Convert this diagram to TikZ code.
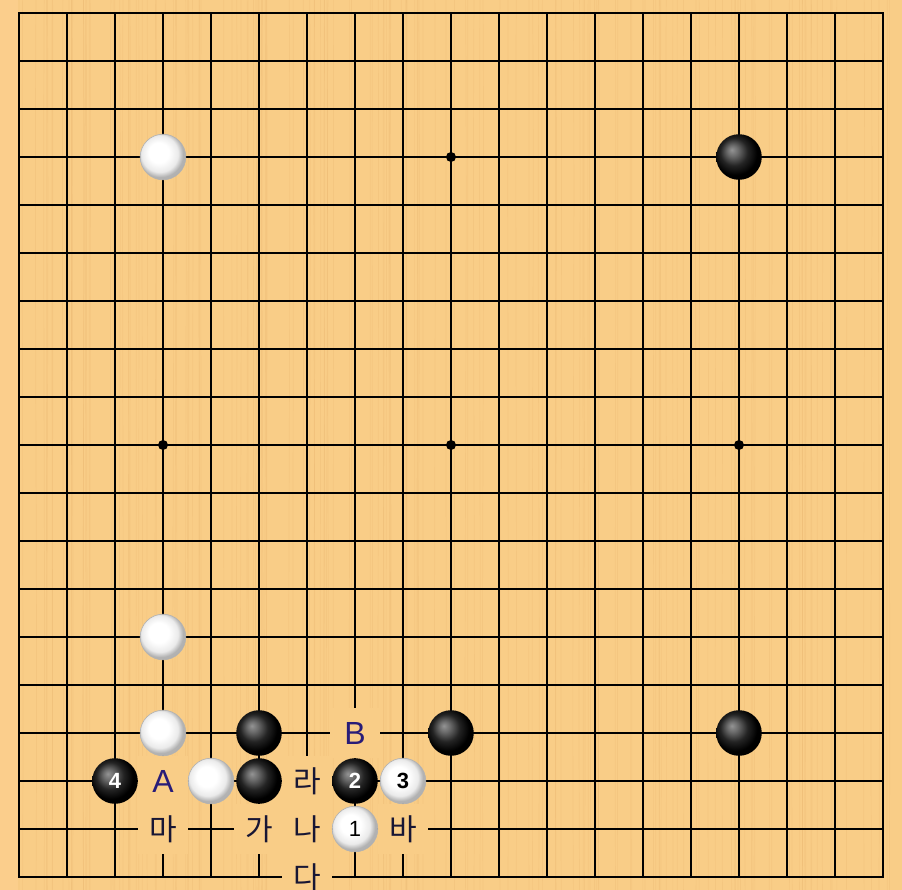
\documentclass[tikz,border=0pt]{standalone}
\usepackage{fontspec}
\setmainfont{Liberation Sans}
\newfontfamily\kr{Noto Sans CJK KR}
\definecolor{board}{RGB}{249,205,135}
\definecolor{margin}{RGB}{251,206,140}
\definecolor{grainc}{RGB}{228,174,104}
\definecolor{lblblue}{RGB}{40,28,120}
\definecolor{lblkr}{RGB}{24,22,52}
\pgfdeclareradialshading{bstone}{\pgfqpoint{-8bp}{8bp}}{color(0bp)=(black!42); color(6bp)=(black!58); color(15bp)=(black!86); color(24bp)=(black); color(50bp)=(black)}
\pgfdeclareradialshading{wstone}{\pgfqpoint{-6bp}{6bp}}{color(0bp)=(white); color(11bp)=(white); color(20bp)=(black!8); color(25bp)=(black!30); color(50bp)=(black!40)}
\tikzset{
  gridline/.style={line width=1.35pt, line cap=rect},
  grain/.style={grainc, line width=0.35pt, opacity=0.22},
  star/.style={circle, fill=black, inner sep=0pt, minimum size=5pt},
  bst/.style={circle, inner sep=0pt, minimum size=22.8pt, shade, shading=bstone, text=white, font=\bfseries\fontsize{11}{12}\selectfont},
  wst/.style={circle, inner sep=0pt, minimum size=22.8pt, shade, shading=wstone, draw=black!30, line width=0.3pt, text=black, font=\bfseries\fontsize{11}{12}\selectfont},
  wst1/.style={wst, font=\fontsize{11}{12}\selectfont},
  lbl/.style={fill=board, inner sep=0pt, minimum size=25pt, text=lblblue, font=\fontsize{16}{18}\selectfont},
  klbl/.style={fill=board, inner sep=0pt, minimum size=25pt, text=lblkr, font=\kr\fontsize{15}{17}\selectfont},
}
\begin{document}
\begin{tikzpicture}
\useasboundingbox (0,0) rectangle (451pt,-445pt);
\fill[margin] (0,0) rectangle (451pt,-445pt);
\fill[board] (9pt,0) rectangle (451pt,-445pt);
\pgfmathsetseed{7}
\foreach \k in {1,...,170}{
  \pgfmathsetmacro\gx{9.5+rnd*441}
  \pgfmathsetmacro\gw{(rnd-0.5)*2}
  \pgfmathsetmacro\ga{\gx+\gw}
  \pgfmathsetmacro\gb{\gx-\gw}
  \draw[grain] (\gx pt,0) .. controls (\ga pt,-150pt) and (\gb pt,-300pt) .. (\gx pt,-445pt);
}
\begin{scope}[shift={(-14.5pt,17.5pt)}, x=24pt, y=-24pt]
  \foreach \i in {1,...,19}{
    \draw[gridline] (\i,1) -- (\i,19);
    \draw[gridline] (1,\i) -- (19,\i);
  }
  \foreach \p/\q [count=\n] in {4/4,10/4,16/4,4/10,10/10,16/10,4/16,10/16,16/16}
    \node[star] (star\n) at (\p,\q) {};
  % labels
  \node[lbl] (lB) at (8,16) {B};
  \node[lbl] (lA) at (4,17) {A};
  \node[klbl] (lra) at (7,17) {라};
  \node[klbl] (lma) at (4,18) {마};
  \node[klbl] (lga) at (6,18) {가};
  \node[klbl] (lna) at (7,18) {나};
  \node[klbl] (lba) at (9,18) {바};
  \node[klbl] (lda) at (7,19) {다};
  % stones
  \node[wst] (w1) at (4,4) {};
  \node[bst] (b1) at (16,4) {};
  \node[wst] (w2) at (4,14) {};
  \node[wst] (w3) at (4,16) {};
  \node[bst] (b2) at (6,16) {};
  \node[bst] (b3) at (10,16) {};
  \node[bst] (b4) at (16,16) {};
  \node[bst] (m4) at (3,17) {4};
  \node[wst] (w4) at (5,17) {};
  \node[bst] (b5) at (6,17) {};
  \node[bst] (m2) at (8,17) {2};
  \node[wst] (m3) at (9,17) {3};
  \node[wst1] (m1) at (8,18) {1};
\end{scope}
\end{tikzpicture}
\end{document}
